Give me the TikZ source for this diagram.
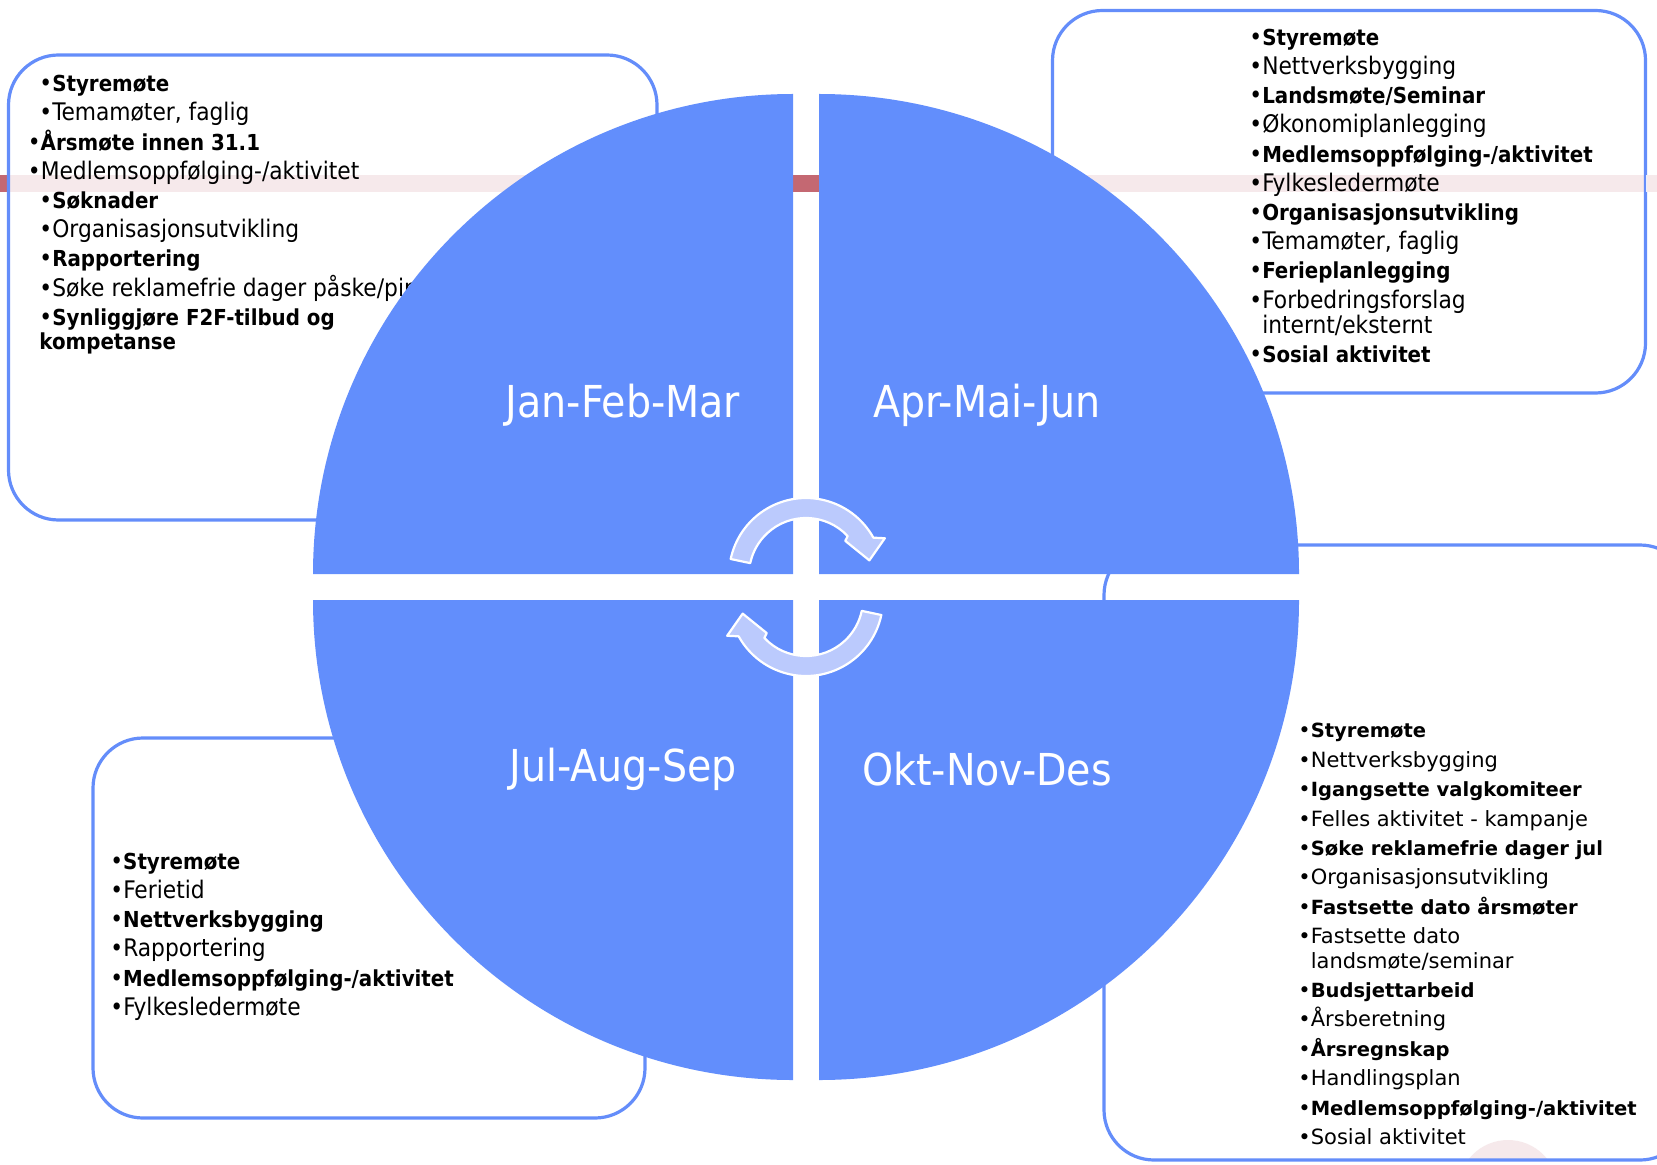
\documentclass[tikz,border=0pt]{standalone}
\usepackage{fontspec}
\setmainfont{DejaVu Sans Condensed}[BoldFeatures={Scale=0.91}]
\newfontfamily\wideface{DejaVu Sans}[BoldFeatures={Scale=0.93}]
\usetikzlibrary{positioning}
\definecolor{quarterblue}{RGB}{98,142,252}
\definecolor{arrowblue}{RGB}{187,202,253}
\definecolor{planline}{RGB}{100,141,250}
\definecolor{bandred}{RGB}{196,104,114}

\begin{document}
\begin{tikzpicture}[x=0.5pt, y=0.5pt,
  quarter/.style={fill=quarterblue},
  season/.style={text=white, font=\fontsize{22}{26}\selectfont},
  plan/.style={draw=planline, line width=1.6pt, fill=white, fill opacity=0.86, rounded corners=25pt},
  items/.style={anchor=north west, align=left, inner sep=0pt, font=\fontsize{12.1}{14.6}\selectfont},
  wideitems/.style={items, font=\wideface\fontsize{10.5}{14.7}\selectfont},
  turn/.style={fill=arrowblue, draw=white, line width=1.1pt, line join=round}]
  \useasboundingbox (0,0) rectangle (1657,1164);

  \fill[bandred] (0,972) rectangle (1657,989);
  \begin{scope}
    \clip (1104,6) rectangle (1690,619);
    \fill[bandred] (1508,-26) circle (50);
  \end{scope}

  \draw[plan] (8.5,644) rectangle (657,1109);
  \draw[plan] (1052.5,771) rectangle (1645.5,1153.5);
  \draw[plan] (93,46) rectangle (645,426);
  \draw[plan] (1104,4) rectangle (1690,619);
  \fill[white, opacity=0.86] (1646,972) rectangle (1657,989);

  \node[items] (janplan) at (27.5,1089) {%
    \hspace*{5.8pt}•\textbf{Styremøte}\\
    \hspace*{5.8pt}•Temamøter, faglig\\
    •\textbf{Årsmøte innen 31.1}\\
    •Medlemsoppfølging-/aktivitet\\
    \hspace*{5.8pt}•\textbf{Søknader}\\
    \hspace*{5.8pt}•Organisasjonsutvikling\\
    \hspace*{5.8pt}•\textbf{Rapportering}\\
    \hspace*{5.8pt}•Søke reklamefrie dager påske/pinse\\
    \hspace*{5.8pt}•\textbf{Synliggjøre F2F-tilbud og}\\[-2.5pt]
    \hspace*{5.8pt}\textbf{kompetanse}};

  \node[items] (aprplan) at (1249,1135.5) {%
    •\textbf{Styremøte}\\
    •Nettverksbygging\\
    •\textbf{Landsmøte/Seminar}\\
    •Økonomiplanlegging\\
    •\textbf{Medlemsoppfølging-/aktivitet}\\
    •Fylkesledermøte\\
    •\textbf{Organisasjonsutvikling}\\
    •Temamøter, faglig\\
    •\textbf{Ferieplanlegging}\\
    •Forbedringsforslag\\[-1.9pt]
    \phantom{•}internt/eksternt\\
    •\textbf{Sosial aktivitet}};

  \node[items] (julplan) at (110,311.5) {%
    •\textbf{Styremøte}\\
    •Ferietid\\
    •\textbf{Nettverksbygging}\\
    •Rapportering\\
    •\textbf{Medlemsoppfølging-/aktivitet}\\
    •Fylkesledermøte};

  \node[wideitems] (oktplan) at (1298,441) {%
    •\textbf{Styremøte}\\
    •Nettverksbygging\\
    •\textbf{Igangsette valgkomiteer}\\
    •Felles aktivitet - kampanje\\
    •\textbf{Søke reklamefrie dager jul}\\
    •Organisasjonsutvikling\\
    •\textbf{Fastsette dato årsmøter}\\
    •Fastsette dato\\[-2.5pt]
    \phantom{•}landsmøte/seminar\\
    •\textbf{Budsjettarbeid}\\
    •Årsberetning\\
    •\textbf{Årsregnskap}\\
    •Handlingsplan\\
    •\textbf{Medlemsoppfølging-/aktivitet}\\
    •Sosial aktivitet};

  \fill[quarter] (793,590) -- (313,590) arc[start angle=180, end angle=90, radius=480] -- cycle;
  \fill[quarter] (819,590) -- (1299,590) arc[start angle=0, end angle=90, radius=480] -- cycle;
  \fill[quarter] (793,564) -- (313,564) arc[start angle=180, end angle=270, radius=480] -- cycle;
  \fill[quarter] (819,564) -- (1299,564) arc[start angle=0, end angle=-90, radius=480] -- cycle;

  \node[season] (jan) at (623,759) {Jan-Feb-Mar};
  \node[season] (apr) at (987,759) {Apr-Mai-Jun};
  \node[season] (jul) at (623,395) {Jul-Aug-Sep};
  \node[season] (okt) at (987,395) {Okt-Nov-Des};

  % cycle arrows
  \coordinate (hub) at (806,577);
  \foreach \turnangle in {0,180} {
    \begin{scope}[shift={(hub)}, rotate=\turnangle, shift={(0,12)}]
      \draw[turn] (168:77) arc[start angle=168, end angle=29, radius=77]
        -- (25:87) -- (13:65) -- (41:52) -- (43:57)
        arc[start angle=43, end angle=168, radius=57] -- cycle;
    \end{scope}
  }
\end{tikzpicture}
\end{document}
